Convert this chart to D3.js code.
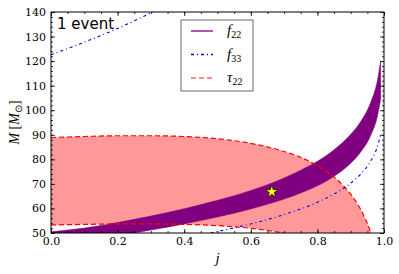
<!DOCTYPE html>
<meta charset="utf-8">
<style>
  body { margin: 0; background: #fff; }
  svg { display: block; }
  .tick text { font-family: "DejaVu Serif", serif; font-size: 11px; fill: #000; }
  .tick line { stroke: #000; stroke-width: 0.8; }
  .math { font-family: "Liberation Serif", serif; font-style: italic; }
</style>
<svg></svg>
<script src="https://cdn.jsdelivr.net/npm/d3@7/dist/d3.min.js"></script>
<script>
// spin grid and mass bounds
var f22Spin = [0, 0.1, 0.2, 0.3, 0.4, 0.5, 0.6, 0.7, 0.75, 0.8, 0.85, 0.9, 0.93, 0.96, 0.98, 0.99],
    f22Low  = [45.5, 46.7, 48.8, 51.2, 53.7, 56.5, 59.8, 63.8, 66.3, 69.2, 73.1, 78.4, 83.0, 89.7, 97.4, 104.5],
    f22High = [50.5, 52.0, 54.3, 56.9, 59.9, 63.3, 67.3, 72.4, 75.6, 79.2, 83.9, 90.2, 95.4, 103.2, 112.0, 120.1];

var f33UpperSpin = [0, 0.1, 0.2, 0.3, 0.35],
    f33Upper     = [122.6, 127.7, 133.3, 139.6, 142.9];
var f33LowerSpin = [0.45, 0.5, 0.6, 0.7, 0.8, 0.85, 0.9, 0.93, 0.96, 0.98, 0.99],
    f33Lower     = [49.2, 50.6, 53.7, 57.5, 62.5, 65.9, 70.3, 74.0, 79.3, 85.1, 90.2];

var tauSpin = [0, 0.1, 0.2, 0.3, 0.4, 0.5, 0.6, 0.7, 0.75, 0.8, 0.85, 0.88, 0.9, 0.92, 0.94, 0.96, 0.98],
    tauHigh = [88.9, 89.3, 89.6, 89.6, 89.3, 88.4, 86.5, 83.2, 80.8, 77.4, 72.8, 69.0, 65.8, 61.9, 56.9, 50.1, 39.6],
    tauLow  = [53.3, 53.5, 53.7, 53.7, 53.5, 53.0, 51.9, 49.9, 48.4, 46.4, 43.6, 41.3, 39.4, 37.1, 34.1, 30.1, 23.7];

var star = {j: 0.663, m: 66.8};

var xTicks = [0, 0.2, 0.4, 0.6, 0.8, 1.0],
    yTicks = [50, 60, 70, 80, 90, 100, 110, 120, 130, 140];

var svg = d3.select("svg").attr("width", 399).attr("height", 274);

var x = d3.scaleLinear().domain([0, 1]).range([51, 384]),
    y = d3.scaleLinear().domain([50, 140]).range([233, 12]);

svg.append("defs").append("clipPath").attr("id", "clip")
  .append("rect")
    .attr("x", x(0)).attr("y", y(140))
    .attr("width", x(1) - x(0)).attr("height", y(50) - y(140));

var plot = svg.append("g").attr("clip-path", "url(#clip)");

function band(js, lo, hi) {
  return d3.area()
    .curve(d3.curveMonotoneX)
    .x(function(d, i) { return x(js[i]); })
    .y0(function(d, i) { return y(lo[i]); })
    .y1(function(d, i) { return y(hi[i]); })(js);
}
function curve(js, ms) {
  return d3.line()
    .curve(d3.curveMonotoneX)
    .x(function(d, i) { return x(js[i]); })
    .y(function(d) { return y(d); })(ms);
}

// tau22 region
plot.append("path").attr("d", band(tauSpin, tauLow, tauHigh))
  .attr("fill", "#ff9999").attr("stroke", "none");

// f22 band
plot.append("path").attr("d", band(f22Spin, f22Low, f22High))
  .attr("fill", "#800080").attr("stroke", "#800080").attr("stroke-width", 0.5);

// tau22 boundaries
[tauHigh, tauLow].forEach(function(ms) {
  plot.append("path").attr("d", curve(tauSpin, ms))
    .attr("fill", "none").attr("stroke", "#ff0000")
    .attr("stroke-width", 1.2).attr("stroke-dasharray", "5,3");
});

// f33 curves
plot.append("path").attr("d", curve(f33UpperSpin, f33Upper))
  .attr("fill", "none").attr("stroke", "#0000ff")
  .attr("stroke-width", 1.1).attr("stroke-dasharray", "3,3,1,3");
plot.append("path").attr("d", curve(f33LowerSpin, f33Lower))
  .attr("fill", "none").attr("stroke", "#0000ff")
  .attr("stroke-width", 1.1).attr("stroke-dasharray", "3,3,1,3");

// best-fit star
svg.append("path")
  .attr("d", d3.symbol().type(d3.symbolStar).size(50)())
  .attr("transform", "translate(" + x(star.j) + "," + y(star.m) + ")")
  .attr("fill", "#ffff00").attr("stroke", "#000").attr("stroke-width", 0.6);

// axes, ticks pointing inward on all sides
var xMinor = d3.range(0, 1.0001, 0.05).map(function(v) { return +v.toFixed(2); }),
    yMinor = d3.range(50, 140.001, 2);

function addAxis(axis, tx, ty) {
  var g = svg.append("g").attr("transform", "translate(" + tx + "," + ty + ")").call(axis);
  g.select(".domain").remove();
  return g;
}
addAxis(d3.axisBottom(x).tickValues(xMinor).tickFormat("").tickSize(-2).tickSizeOuter(0), 0, y(50));
addAxis(d3.axisBottom(x).tickValues(xTicks).tickFormat(d3.format(".1f")).tickSize(-4).tickPadding(4).tickSizeOuter(0), 0, y(50));
addAxis(d3.axisTop(x).tickValues(xMinor).tickFormat("").tickSize(-2).tickSizeOuter(0), 0, y(140));
addAxis(d3.axisTop(x).tickValues(xTicks).tickFormat("").tickSize(-4).tickSizeOuter(0), 0, y(140));
addAxis(d3.axisLeft(y).tickValues(yMinor).tickFormat("").tickSize(-2).tickSizeOuter(0), x(0), 0);
addAxis(d3.axisLeft(y).tickValues(yTicks).tickFormat(d3.format("d")).tickSize(-4).tickPadding(5).tickSizeOuter(0), x(0), 0);
addAxis(d3.axisRight(y).tickValues(yMinor).tickFormat("").tickSize(-2).tickSizeOuter(0), x(1), 0);
addAxis(d3.axisRight(y).tickValues(yTicks).tickFormat("").tickSize(-4).tickSizeOuter(0), x(1), 0);

svg.append("rect")
  .attr("x", x(0)).attr("y", y(140))
  .attr("width", x(1) - x(0)).attr("height", y(50) - y(140))
  .attr("fill", "none").attr("stroke", "#000").attr("stroke-width", 1);

// labels
svg.append("text").attr("x", 57).attr("y", 29)
  .style("font-family", "DejaVu Sans, sans-serif").style("font-size", "15px")
  .text("1 event");

svg.append("text").attr("class", "math")
  .attr("x", (x(0) + x(1)) / 2).attr("y", 263)
  .attr("text-anchor", "middle").style("font-size", "15px").text("j");

var yl = svg.append("text")
  .attr("transform", "translate(19," + (y(50) + y(140)) / 2 + ") rotate(-90)")
  .attr("text-anchor", "middle")
  .style("font-family", "Liberation Serif, serif").style("font-size", "14px");
yl.append("tspan").attr("class", "math").text("M");
yl.append("tspan").text(" [");
yl.append("tspan").attr("class", "math").text("M");
yl.append("tspan").attr("dy", 3).style("font-size", "10px").text("\u2299");
yl.append("tspan").attr("dy", -3).text("]");

// legend
var legend = svg.append("g").attr("transform", "translate(181,20)");
legend.append("rect").attr("width", 72).attr("height", 71)
  .attr("fill", "#fff").attr("stroke", "#444").attr("stroke-width", 0.8);

var legendNames = ["f", "f", "\u03c4"],
    legendSubs = ["22", "33", "22"],
    legendColors = ["#800080", "#0000ff", "#ff6666"],
    legendDash = [null, "3,3,1,3", "5,3"];

legendNames.forEach(function(name, i) {
  var yy = 11 + i * 23.5;
  legend.append("line")
    .attr("x1", 10).attr("x2", 32).attr("y1", yy).attr("y2", yy)
    .attr("stroke", legendColors[i]).attr("stroke-width", 1.3)
    .attr("stroke-dasharray", legendDash[i]);
  var t = legend.append("text").attr("x", 46).attr("y", yy + 4)
    .style("font-family", "Liberation Serif, serif").style("font-size", "15px");
  t.append("tspan").attr("class", "math").text(name);
  t.append("tspan").attr("dy", 3).style("font-size", "10px").text(legendSubs[i]);
});
</script>
